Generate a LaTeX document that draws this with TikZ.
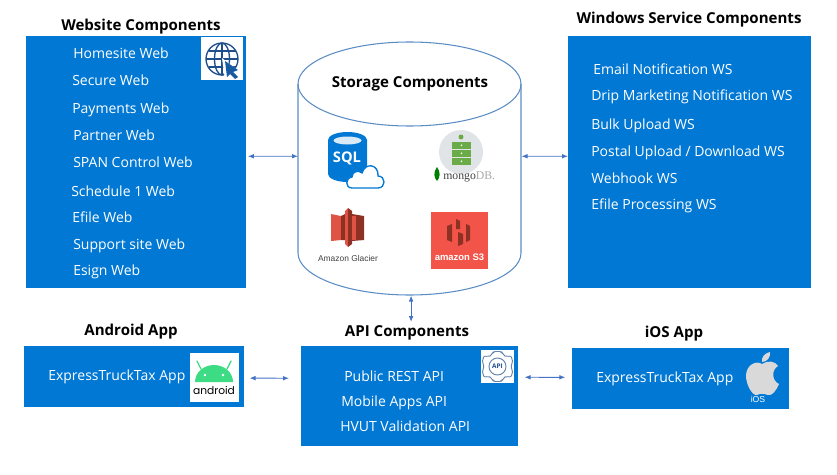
\documentclass[tikz,border=0pt]{standalone}
\usepackage{fontspec}
\setmainfont{Open Sans}
\newfontfamily\glacierfont{Liberation Sans}
\newfontfamily\mongofont{Liberation Serif}
\newfontfamily\droidfont{Poppins}
\usetikzlibrary{arrows.meta,calc}
\definecolor{azure}{HTML}{0078D4}
\definecolor{linkblue}{HTML}{4472C4}
\definecolor{cylblue}{HTML}{5B8DC4}
\definecolor{globenavy}{HTML}{1F4E8C}
\definecolor{andgreen}{HTML}{3DDC84}
\definecolor{mongogreen}{HTML}{6CAC48}
\definecolor{mongogrey}{HTML}{E1E4E6}
\definecolor{awsred}{HTML}{E05243}
\definecolor{awsdark}{HTML}{8C3123}
\definecolor{sthree}{HTML}{F25449}
\def\pxu{0.75pt}
\tikzset{
  panel/.style={fill=azure,draw=none,inner sep=0pt,anchor=north west},
  heading/.style={font=\fontsize{11.3pt}{13pt}\selectfont\bfseries,text=black,inner sep=0pt,text height=8pt,text depth=0pt},
  entry/.style={font=\fontsize{10.5pt}{12pt}\selectfont,text=white,inner sep=0pt,anchor=west,text height=7.6pt,text depth=0pt},
  link/.style={draw=linkblue,line width=0.7pt,{Latex[length=4.5pt,width=3.5pt]}-{Latex[length=4.5pt,width=3.5pt]}},
  badge/.style={fill=white,draw=none}
}
\begin{document}
\begin{tikzpicture}[x=0.75pt,y=-0.75pt]
\useasboundingbox (0,0) rectangle (837,474);

% Component panels
\node[panel,minimum width=220*\pxu,minimum height=252*\pxu] (web) at (26,36) {};
\node[panel,minimum width=243*\pxu,minimum height=252*\pxu] (win) at (568,36) {};
\node[panel,minimum width=220*\pxu,minimum height=61*\pxu] (android) at (24,346) {};
\node[panel,minimum width=217*\pxu,minimum height=100*\pxu] (api) at (301,346) {};
\node[panel,minimum width=217*\pxu,minimum height=61*\pxu] (ios) at (572,348) {};

% Storage cylinder: an anchor box plus the drawn outline
\node[inner sep=0pt,minimum width=223*\pxu,minimum height=253*\pxu,anchor=north west] (store) at (298,42) {};
\draw[cylblue,line width=0.8pt] (409.5,84) ellipse (111.5 and 42);
\draw[cylblue,line width=0.8pt] (298,84) -- (298,253) arc[start angle=180,end angle=0,x radius=111.5,y radius=42] -- (521,84);

% Headings
\node[heading] (h1) at (141,25) {Website Components};
\node[heading] (h2) at (689,18) {Windows Service Components};
\node[heading] (h3) at (410,82) {Storage Components};
\node[heading] (h4) at (131,330) {Android App};
\node[heading] (h5) at (407,331) {API Components};
\node[heading] (h6) at (674,332) {iOS App};

% Website entries
\node[entry] (w1) at (73,53) {Homesite Web};
\node[entry] (w2) at (72,80) {Secure Web};
\node[entry] (w3) at (72,108) {Payments Web};
\node[entry] (w4) at (73,135) {Partner Web};
\node[entry] (w5) at (73,162) {SPAN Control Web};
\node[entry] (w6) at (71,191) {Schedule 1 Web};
\node[entry] (w7) at (72,217) {Efile Web};
\node[entry] (w8) at (73,244) {Support site Web};
\node[entry] (w9) at (73,270) {Esign Web};

% Windows service entries
\node[entry] (s1) at (593,69) {Email Notification WS};
\node[entry] (s2) at (591,95) {Drip Marketing Notification WS};
\node[entry] (s3) at (591,124) {Bulk Upload WS};
\node[entry] (s4) at (591,151) {Postal Upload / Download WS};
\node[entry] (s5) at (591,178) {Webhook WS};
\node[entry] (s6) at (591,204) {Efile Processing WS};

% App and API entries
\node[entry] (a1) at (48,375) {ExpressTruckTax App};
\node[entry] (i1) at (596,377) {ExpressTruckTax App};
\node[entry] (p1) at (344,376) {Public REST API};
\node[entry] (p2) at (341,401) {Mobile Apps API};
\node[entry] (p3) at (340,426) {HVUT Validation API};

% Connectors
\draw[link] ([yshift=4.5pt,xshift=1pt]web.east) -- ([yshift=9.4pt]store.west);
\draw[link] ([yshift=9.4pt]store.east) -- ([yshift=4.5pt]win.west);
\draw[link] ([xshift=1pt]store.south) -- ([yshift=18pt,xshift=1pt]api.north);
\draw[link] ([xshift=3.75pt,yshift=-1pt]android.east) -- ([xshift=-9pt,yshift=13.5pt]api.west);
\draw[link] ([xshift=4.5pt,yshift=14.25pt]api.east) -- ([xshift=-5pt,yshift=1.1pt]ios.west);

% Globe badge
\fill[badge] (201,37) rectangle (243,80);
\begin{scope}[draw=globenavy,line width=1pt]
  \draw (222,59) circle (16);
  \draw (222,59) ellipse (7.5 and 16);
  \draw (222,43) -- (222,75);
  \draw (206,59) -- (238,59);
  \draw (208.5,51) -- (235.5,51);
  \draw (208.5,67) -- (235.5,67);
\end{scope}
\fill[white] (222,58) -- (240,72) -- (234,74) -- (240,80) -- (233,80) -- (228,77) -- (225,80) -- cycle;
\fill[globenavy!70!azure] (225,61) -- (238,70) -- (233,72) -- (238,77) -- (235,79) -- (230,74) -- (227,77) -- cycle;

% Android badge
\fill[badge] (190,353) rectangle (239,402);
\fill[andgreen] (195,382) arc[start angle=180,end angle=360,x radius=19,y radius=17] -- cycle;
\draw[andgreen,line width=1pt,line cap=round] (201,369) -- (197,361);
\draw[andgreen,line width=1pt,line cap=round] (227,369) -- (231,361);
\fill[white] (205,375) circle (1.4);
\fill[white] (223,375) circle (1.4);
\node[inner sep=0pt,font=\fontsize{8pt}{9pt}\selectfont\droidfont,text=black] (andlabel) at (214,390) {android};

% API gear badge
\fill[badge] (481,350) rectangle (514,383);
\draw[globenavy!70,line width=0.7pt] (497.5,366.5) circle (8.5);
\draw[globenavy!70,line width=0.7pt,rounded corners=1.5pt]
  (493,351.5) -- (502,351.5) -- (503,355) -- (507,357) -- (511,355.5) -- (513,363) -- (510,366.5)
  -- (513,370) -- (511,377.5) -- (507,376) -- (503,378) -- (502,381.5) -- (493,381.5) -- (492,378)
  -- (488,376) -- (484,377.5) -- (482,370) -- (485,366.5) -- (482,363) -- (484,355.5) -- (488,357) -- (492,355) -- cycle;
\node[inner sep=0pt,font=\fontsize{4.8pt}{5pt}\selectfont\bfseries,text=globenavy] (apilabel) at (497.5,366.5) {API};

% Apple badge
\fill[black!15]
  (762,364) .. controls (768,360) and (775,361) .. (778,366) .. controls (771,370) and (772,381) .. (779,384)
  .. controls (776,391) and (772,396) .. (768,395) .. controls (765,394) and (760,393) .. (757,395)
  .. controls (752,396) and (746,384) .. (746,376) .. controls (746,365) and (756,360) .. (762,364) -- cycle;
\fill[black!15] (762,362) .. controls (761,357) and (765,353) .. (770,352) .. controls (771,357) and (767,362) .. (762,362) -- cycle;
\node[inner sep=0pt,font=\fontsize{6.5pt}{7pt}\selectfont\glacierfont,text=white] (ioslabel) at (758,399) {iOS};

% SQL database icon
\fill[azure] (328,140) -- (328,174) arc[start angle=180,end angle=0,x radius=19.5,y radius=8] -- (367,140)
  arc[start angle=0,end angle=-180,x radius=19.5,y radius=8] -- cycle;
\fill[white!85!azure] (347.5,140.5) ellipse (14 and 4);
\node[inner sep=0pt,font=\fontsize{11pt}{12pt}\selectfont\bfseries,text=white] (sqllabel) at (347,158) {SQL};
\draw[azure,fill=white,line width=1pt]
  (352,188) .. controls (345,188) and (345,178) .. (352,177) .. controls (352,171) and (359,170) .. (362,173)
  .. controls (365,162) and (379,164) .. (378,176) .. controls (386,176) and (386,188) .. (378,188) -- cycle;

% MongoDB icon
\fill[mongogrey] (461,152) circle (22);
\foreach \ty in {142,150,158}{
  \fill[mongogreen] (452,\ty) rectangle (471,\ty+6.5);
  \fill[white] (461.5,\ty+3.2) circle (0.9);
}
\fill[mongogreen] (461,137) circle (2.5);
\fill[green!50!black] (437,167) .. controls (433,172) and (434,178) .. (437,181) .. controls (440,178) and (441,172) .. (437,167) -- cycle;
\node[inner sep=0pt,anchor=west,font=\fontsize{8.8pt}{9pt}\selectfont\mongofont,text=black!75] (mongolabel) at (443,177) {mongo\textcolor{black!35}{DB.}};

% Glacier icon
\fill[awsred] (331,214) -- (341,216) -- (341,240) -- (331,241) -- cycle;
\fill[awsdark] (341,216) -- (345,214) -- (345,240) -- (341,240) -- cycle;
\fill[awsred] (345,211) -- (348,208) -- (348,247) -- (345,244) -- cycle;
\fill[awsdark] (348,208) -- (352,211) -- (352,244) -- (348,247) -- cycle;
\fill[awsdark] (352,214) -- (364,216) -- (364,240) -- (352,241) -- cycle;
\fill[awsred] (352,216) -- (356,216) -- (356,240) -- (352,240) -- cycle;
\node[inner sep=0pt,font=\fontsize{6.3pt}{7pt}\selectfont\glacierfont,text=black!75] (glacierlabel) at (348,258) {Amazon Glacier};

% S3 icon
\fill[sthree] (431,212) rectangle (488,269);
\fill[awsdark] (447,226) -- (452,224) -- (452,242) -- (447,240) -- cycle;
\fill[awsdark] (466,224) -- (470,226) -- (470,240) -- (466,242) -- cycle;
\fill[awsdark] (456,219) -- (460,221) -- (460,229) -- (456,229) -- cycle;
\fill[awsdark] (458,232) -- (463,234) -- (463,244) -- (458,246) -- cycle;
\node[inner sep=0pt,font=\fontsize{7.1pt}{8pt}\selectfont\bfseries\glacierfont,text=white] (s3label) at (459.5,257) {amazon S3};
\end{tikzpicture}
\end{document}
